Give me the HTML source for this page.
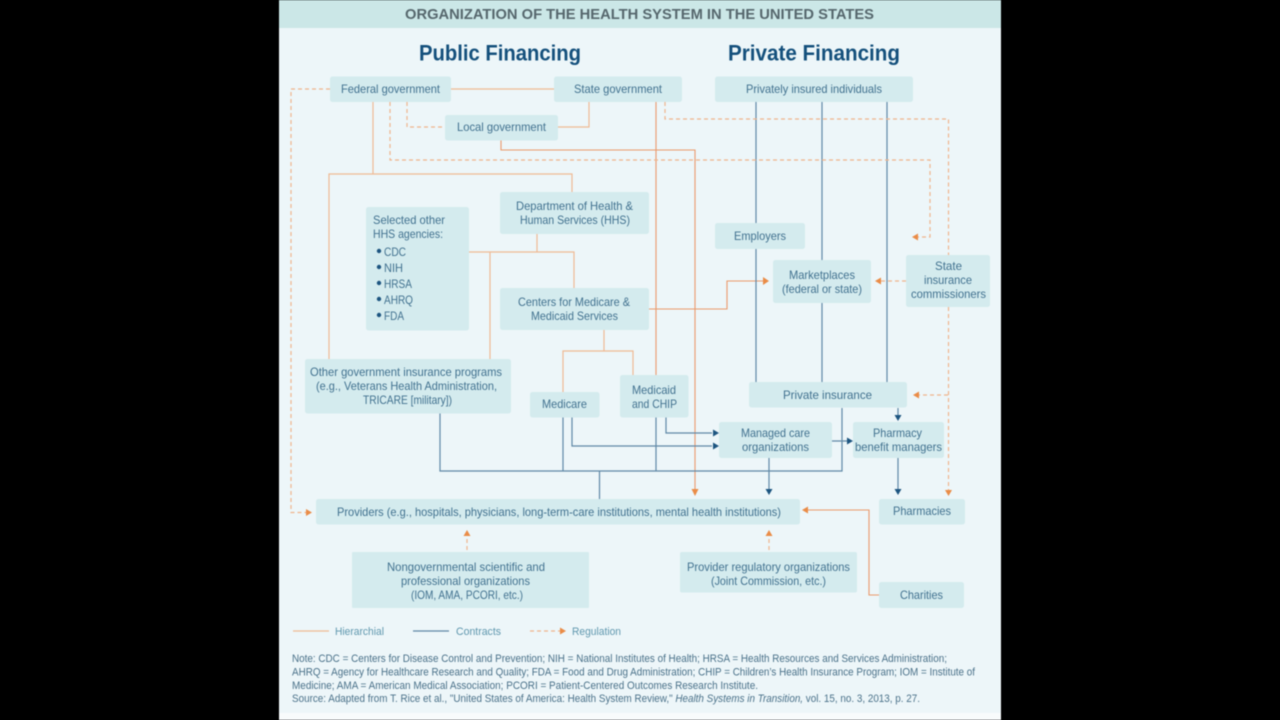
<!DOCTYPE html>
<html><head><meta charset="utf-8"><title>Organization of the Health System in the United States</title>
<style>
html,body{margin:0;padding:0;background:#000;width:1280px;height:720px;overflow:hidden}
svg{display:block;filter:blur(.45px)}
text{font-family:"Liberation Sans",sans-serif}
.t{font-size:11.8px;fill:#41718f}
.n{font-size:10.6px;fill:#4a7189}
.l{font-size:11.3px;fill:#5f97ae}
.o{fill:none;stroke:#f0ba94;stroke-width:1.2}
.r{fill:none;stroke:#ea9a6c;stroke-width:1.1}
.b{fill:none;stroke:#5f88a6;stroke-width:1.2}
.d{fill:none;stroke:#f0b48c;stroke-width:1.2;stroke-dasharray:4 3}
.box{fill:#d4ebee}
.ao{fill:#ea8c47}.ab{fill:#1d5580}
</style></head><body>
<svg width="1280" height="720" viewBox="0 0 1280 720" xmlns="http://www.w3.org/2000/svg">
<rect x="0" y="0" width="1280" height="720" fill="#000"/>
<rect x="279" y="0" width="722" height="720" fill="#edf6f9"/>
<rect x="279" y="713" width="722" height="7" fill="#f8fbfc"/>
<rect x="279" y="0" width="722" height="28" fill="#cbe7e7"/>
<text x="405" y="19" font-size="15" font-weight="bold" fill="#56676d" textLength="469" lengthAdjust="spacingAndGlyphs">ORGANIZATION OF THE HEALTH SYSTEM IN THE UNITED STATES</text>
<text x="419" y="60.500" font-size="22" font-weight="bold" fill="#14507c" textLength="162" lengthAdjust="spacingAndGlyphs">Public Financing</text>
<text x="728" y="60.500" font-size="22" font-weight="bold" fill="#14507c" textLength="172" lengthAdjust="spacingAndGlyphs">Private Financing</text>

<!-- hierarchical -->
<path class="o" d="M451 89H554M589 102V127H558M373 102V174M329 359V174H572V192M537 234V252M469 252H574V288M490 252V359M604 330V351M563 392V351H633V375"/>
<path class="r" d="M501 140V150H695V491M656 102V375M649 309H727V281H763M879 595H869V510H807"/>
<!-- contracts -->
<path class="b" d="M756 102V223M822 102V260M887 102V382M756 249V382M822 303V382M440 413V471H842V408M563 417V471M656 417V471M599.500 471V499M572 417V446H712M666 417V433H712M769 458V491M832 441H847M898 408V417M898 458V492"/>
<!-- regulation -->
<path class="d" d="M330 89H291V512.500H306M407 102V127H445M390 102V160H930V237H918M665 102V119H948.500V255M948.500 307V491M906 281H880M948 395H919M467 550V535M769 550V535"/>

<!-- arrowheads -->
<path class="ao" d="M695 496l-3.500-7h7zM769 281l-6-4v8zM802 510l6-3.500v7zM312 512.500l-6-3.500v7zM912 237l6-3.500v7zM875 281l6-3.500v7zM913 395l6-3.500v7zM948.500 496l-3.500-6h7zM467 530l-3.500 6h7zM769 530l-3.500 6h7z"/>
<path class="ab" d="M769 495l-3.500-6h7zM898 495l-3.500-6h7zM898 421l-3.500-6h7zM719 446l-6-3.500v7zM719 433l-6-3.500v7zM853 441l-6-3.500v7z"/>

<!-- boxes -->
<g class="box">
<rect x="330" y="76.500" width="121" height="25.500" rx="2.500"/>
<rect x="554" y="76.500" width="128" height="25.500" rx="2.500"/>
<rect x="715" y="76.500" width="198" height="25.500" rx="2.500"/>
<rect x="445" y="115" width="113" height="25.500" rx="2.500"/>
<rect x="500" y="192" width="149" height="42" rx="2.500"/>
<rect x="366" y="207" width="103" height="123.500" rx="2.500"/>
<rect x="500" y="288" width="149" height="42" rx="2.500"/>
<rect x="305" y="359" width="206" height="54.500" rx="2.500"/>
<rect x="530" y="392" width="69.500" height="25.500" rx="2.500"/>
<rect x="620" y="375" width="68.500" height="42.500" rx="2.500"/>
<rect x="715" y="223" width="90" height="26" rx="2.500"/>
<rect x="773" y="260" width="98" height="43" rx="2.500"/>
<rect x="906" y="255" width="84" height="52" rx="2.500"/>
<rect x="749" y="382" width="158" height="25.500" rx="2.500"/>
<rect x="719" y="422" width="113" height="36" rx="2.500"/>
<rect x="853" y="422" width="91" height="36" rx="2.500"/>
<rect x="316" y="499" width="484" height="25.500" rx="2.500"/>
<rect x="879" y="499" width="86" height="25.500" rx="2.500"/>
<rect x="352" y="552" width="237" height="56" rx="1"/>
<rect x="680" y="552" width="177" height="40.500" rx="2"/>
<rect x="879" y="582" width="85" height="26" rx="2.500"/>
</g>

<!-- labels -->
<text class="t" x="341" y="93" textLength="99" lengthAdjust="spacingAndGlyphs">Federal government</text>
<text class="t" x="574" y="93" textLength="88" lengthAdjust="spacingAndGlyphs">State government</text>
<text class="t" x="746" y="93" textLength="136" lengthAdjust="spacingAndGlyphs">Privately insured individuals</text>
<text class="t" x="457" y="131" textLength="89" lengthAdjust="spacingAndGlyphs">Local government</text>
<text class="t" x="516" y="210" textLength="117" lengthAdjust="spacingAndGlyphs">Department of Health &amp;</text>
<text class="t" x="520" y="224" textLength="110" lengthAdjust="spacingAndGlyphs">Human Services (HHS)</text>
<text class="t" x="373" y="224" textLength="72" lengthAdjust="spacingAndGlyphs">Selected other</text>
<text class="t" x="373" y="238" textLength="70" lengthAdjust="spacingAndGlyphs">HHS agencies:</text>
<text class="t" x="384" y="256" textLength="22" lengthAdjust="spacingAndGlyphs">CDC</text>
<text class="t" x="384" y="272" textLength="19" lengthAdjust="spacingAndGlyphs">NIH</text>
<text class="t" x="384" y="288" textLength="28" lengthAdjust="spacingAndGlyphs">HRSA</text>
<text class="t" x="384" y="304" textLength="29" lengthAdjust="spacingAndGlyphs">AHRQ</text>
<text class="t" x="384" y="320" textLength="20" lengthAdjust="spacingAndGlyphs">FDA</text>
<text class="t" x="518" y="306" textLength="112" lengthAdjust="spacingAndGlyphs">Centers for Medicare &amp;</text>
<text class="t" x="531" y="320" textLength="87" lengthAdjust="spacingAndGlyphs">Medicaid Services</text>
<text class="t" x="310" y="376" textLength="192" lengthAdjust="spacingAndGlyphs">Other government insurance programs</text>
<text class="t" x="316" y="390" textLength="181" lengthAdjust="spacingAndGlyphs">(e.g., Veterans Health Administration,</text>
<text class="t" x="363" y="404" textLength="89" lengthAdjust="spacingAndGlyphs">TRICARE [military])</text>
<text class="t" x="542" y="408" textLength="45" lengthAdjust="spacingAndGlyphs">Medicare</text>
<text class="t" x="632" y="394" textLength="44" lengthAdjust="spacingAndGlyphs">Medicaid</text>
<text class="t" x="632" y="408" textLength="45" lengthAdjust="spacingAndGlyphs">and CHIP</text>
<text class="t" x="734" y="240" textLength="52" lengthAdjust="spacingAndGlyphs">Employers</text>
<text class="t" x="789" y="279" textLength="66" lengthAdjust="spacingAndGlyphs">Marketplaces</text>
<text class="t" x="782" y="293" textLength="80" lengthAdjust="spacingAndGlyphs">(federal or state)</text>
<text class="t" x="935" y="270" textLength="27" lengthAdjust="spacingAndGlyphs">State</text>
<text class="t" x="924" y="284" textLength="48" lengthAdjust="spacingAndGlyphs">insurance</text>
<text class="t" x="911" y="298" textLength="75" lengthAdjust="spacingAndGlyphs">commissioners</text>
<text class="t" x="783" y="399" textLength="89" lengthAdjust="spacingAndGlyphs">Private insurance</text>
<text class="t" x="741" y="437" textLength="69" lengthAdjust="spacingAndGlyphs">Managed care</text>
<text class="t" x="742" y="451" textLength="67" lengthAdjust="spacingAndGlyphs">organizations</text>
<text class="t" x="873" y="437" textLength="49" lengthAdjust="spacingAndGlyphs">Pharmacy</text>
<text class="t" x="855" y="451" textLength="87" lengthAdjust="spacingAndGlyphs">benefit managers</text>
<text class="t" x="337" y="516" textLength="444" lengthAdjust="spacingAndGlyphs">Providers (e.g., hospitals, physicians, long-term-care institutions, mental health institutions)</text>
<text class="t" x="893" y="515" textLength="58" lengthAdjust="spacingAndGlyphs">Pharmacies</text>
<text class="t" x="387" y="571" textLength="158" lengthAdjust="spacingAndGlyphs">Nongovernmental scientific and</text>
<text class="t" x="401" y="585" textLength="129" lengthAdjust="spacingAndGlyphs">professional organizations</text>
<text class="t" x="411" y="599" textLength="112" lengthAdjust="spacingAndGlyphs">(IOM, AMA, PCORI, etc.)</text>
<text class="t" x="687" y="571" textLength="163" lengthAdjust="spacingAndGlyphs">Provider regulatory organizations</text>
<text class="t" x="711" y="585" textLength="115" lengthAdjust="spacingAndGlyphs">(Joint Commission, etc.)</text>
<text class="t" x="900" y="599" textLength="43" lengthAdjust="spacingAndGlyphs">Charities</text>

<g fill="#1d5580">
<circle cx="379" cy="251" r="2.200"/><circle cx="379" cy="267" r="2.200"/><circle cx="379" cy="283" r="2.200"/><circle cx="379" cy="299" r="2.200"/><circle cx="379" cy="315" r="2.200"/>
</g>

<!-- legend -->
<path class="o" d="M293 631H329"/>
<path class="b" d="M413 631H449"/>
<path class="d" d="M530 631H561"/>
<path class="ao" d="M566 631l-6-3.500v7z"/>
<text class="l" x="335" y="635" textLength="49" lengthAdjust="spacingAndGlyphs">Hierarchial</text>
<text class="l" x="456" y="635" textLength="45" lengthAdjust="spacingAndGlyphs">Contracts</text>
<text class="l" x="572" y="635" textLength="49" lengthAdjust="spacingAndGlyphs">Regulation</text>

<!-- notes -->
<text class="n" x="292" y="662" textLength="655" lengthAdjust="spacingAndGlyphs">Note: CDC = Centers for Disease Control and Prevention; NIH = National Institutes of Health; HRSA = Health Resources and Services Administration;</text>
<text class="n" x="292" y="675.500" textLength="683" lengthAdjust="spacingAndGlyphs">AHRQ = Agency for Healthcare Research and Quality; FDA = Food and Drug Administration; CHIP = Children’s Health Insurance Program; IOM = Institute of</text>
<text class="n" x="292" y="689" textLength="466" lengthAdjust="spacingAndGlyphs">Medicine; AMA = American Medical Association; PCORI = Patient-Centered Outcomes Research Institute.</text>
<text class="n" x="292" y="702" textLength="628" lengthAdjust="spacingAndGlyphs">Source: Adapted from T. Rice et al., "United States of America: Health System Review," <tspan font-style="italic">Health Systems in Transition,</tspan> vol. 15, no. 3, 2013, p. 27.</text>
</svg>
</body></html>
